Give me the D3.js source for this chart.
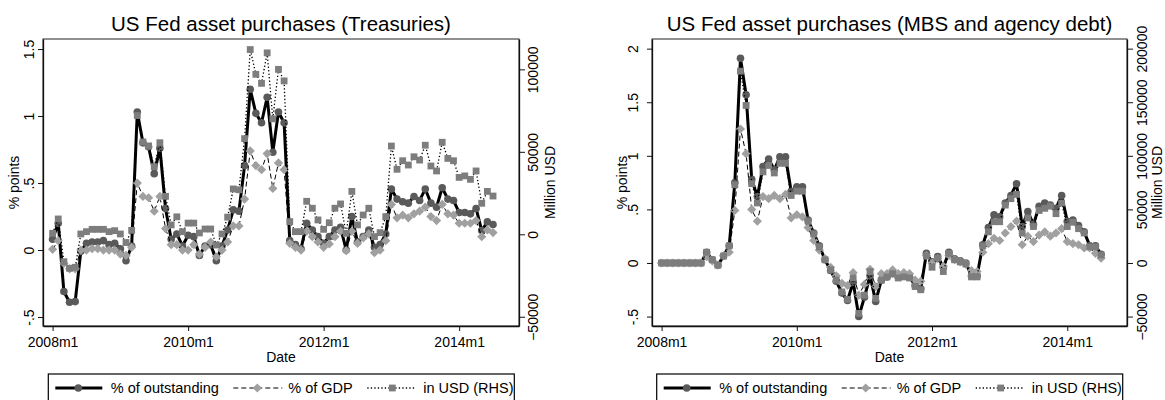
<!DOCTYPE html>
<html>
<head>
<meta charset="utf-8">
<script src="https://cdnjs.cloudflare.com/ajax/libs/d3/7.8.5/d3.min.js"></script>
<style>
  body { margin: 0; background: #fff; }
  svg { display: block; font-family: "Liberation Sans", Arial, sans-serif; }
</style>
</head>
<body>
<div id="chart"></div>
<script>
// monthly observations, 2008m1 .. 2014m7
let startMonth = new Date(2008, 0, 1);

// Treasuries
let treasOutstanding = [0.08,0.20,-0.31,-0.39,-0.385,-0.01,0.05,0.06,0.06,0.07,
  0.04,0.05,0.01,-0.08,0.03,1.03,0.80,0.77,0.57,0.76,
  0.31,0.08,0.12,0.03,0.11,0.10,-0.04,0.03,0.04,-0.08,
  0.03,0.15,0.30,0.29,0.63,1.20,1.02,0.95,1.14,0.73,
  1.03,0.95,0.07,0.04,0.01,0.20,0.15,0.10,0.05,0.10,
  0.15,0.17,0.00,0.25,0.06,0.10,0.15,0.02,0.04,0.12,
  0.455,0.38,0.36,0.35,0.40,0.37,0.455,0.35,0.32,0.465,
  0.38,0.37,0.28,0.28,0.27,0.31,0.145,0.21,0.19];
let treasGDP = [0.005,0.07,-0.10,-0.14,-0.14,0.0,0.0,0.01,0.01,0.0,
  0.0,0.0,-0.03,-0.04,0.02,0.50,0.40,0.39,0.29,0.40,
  0.16,0.04,0.04,0.0,0.0,0.04,-0.03,0.02,0.06,-0.05,
  0.0,0.06,0.18,0.18,0.38,0.74,0.63,0.60,0.72,0.46,
  0.65,0.60,0.05,0.02,0.0,0.14,0.10,0.06,0.02,0.045,
  0.10,0.14,-0.005,0.14,0.05,0.09,0.12,-0.02,0.0,0.07,
  0.34,0.24,0.26,0.24,0.27,0.29,0.32,0.25,0.22,0.34,
  0.27,0.26,0.20,0.20,0.20,0.22,0.10,0.15,0.13];
let treasUSD = [600,9300,-16600,-20600,-20000,200,1600,3000,3000,3000,
  1600,2200,200,-5000,2400,72000,56000,53600,41000,55500,
  23000,5700,10600,1600,6800,6800,800,3200,3200,-6500,
  200,10400,27500,27000,58000,112000,97000,91500,110000,70000,
  100000,93000,7700,1600,1600,20000,15800,8700,3000,7000,
  15800,18400,600,26000,5700,11700,15800,-1400,1000,10700,
  53500,39400,44600,42000,47000,45000,54000,41400,38400,55800,
  46000,44600,34500,35400,33300,38400,18800,26000,23200];

// MBS and agency debt
let mbsOutstanding = [0,0,0,0,0,0,0,0,0.10,0.03,
  -0.02,0.065,0.16,0.75,1.91,1.57,0.78,0.62,0.90,0.97,
  0.87,0.99,0.99,0.67,0.71,0.71,0.40,0.28,0.16,0.03,
  -0.07,-0.17,-0.28,-0.35,-0.18,-0.50,-0.32,-0.12,-0.36,-0.16,
  -0.13,-0.10,-0.13,-0.12,-0.13,-0.21,-0.24,0.09,0.01,0.06,
  -0.04,0.10,0.04,0.02,0.0,-0.12,-0.12,0.17,0.33,0.45,
  0.43,0.56,0.63,0.74,0.34,0.48,0.36,0.53,0.56,0.54,
  0.51,0.63,0.39,0.40,0.35,0.29,0.16,0.16,0.08];
let mbsGDP = [0,0,0,0,0,0,0,0,0.06,0.02,
  -0.02,0.07,0.10,0.49,1.25,1.02,0.50,0.39,0.62,0.60,
  0.63,0.60,0.64,0.42,0.45,0.43,0.33,0.21,0.12,0.04,
  -0.04,-0.12,-0.19,-0.21,-0.09,-0.30,-0.20,-0.06,-0.22,-0.10,
  -0.10,-0.065,-0.10,-0.09,-0.10,-0.16,-0.17,0.07,0.0,0.04,
  -0.03,0.07,0.03,0.01,-0.01,-0.07,-0.08,0.10,0.18,0.23,
  0.21,0.28,0.34,0.39,0.17,0.25,0.20,0.26,0.29,0.25,
  0.28,0.32,0.20,0.18,0.17,0.14,0.14,0.09,0.045];
let mbsUSD = [0,0,0,0,0,0,0,0,10000,3000,
  -2000,6500,16000,73000,179000,147000,74000,56000,85000,91000,
  84000,93000,93000,63000,67000,67000,39000,27000,15000,3000,
  -6500,-16000,-27000,-34000,-14000,-47000,-30000,-8000,-33000,-16000,
  -13000,-10000,-14000,-13000,-14000,-22000,-25000,6500,-4000,4500,
  -8000,9000,3000,1000,-1000,-13000,-13000,16000,29000,38500,
  38500,54000,60000,64000,28000,42000,34000,49000,51000,53000,
  46000,56000,34000,38000,32000,28000,15000,15000,7500];

// ticks
let xTickMonths = [0, 24, 48, 72];
let xTickLabels = ["2008m1", "2010m1", "2012m1", "2014m1"];
let treasLTicks = [-0.5, 0, 0.5, 1, 1.5];
let treasLLabels = ["-.5", "0", ".5", "1", "1.5"];
let treasRTicks = [-50000, 0, 50000, 100000];
let mbsLTicks = [-0.5, 0, 0.5, 1, 1.5, 2];
let mbsLLabels = ["-.5", "0", ".5", "1", "1.5", "2"];
let mbsRTicks = [-50000, 0, 50000, 100000, 150000, 200000];

let legendLabels = ["% of outstanding", "% of GDP", "in USD (RHS)"];

let w = 1165;
let h = 400;

let svg = d3.select("#chart").append("svg")
  .attr("width", w)
  .attr("height", h);

// turn month index into a date (only used for sanity, axis works on index)
let dates = treasOutstanding.map((d, i) => d3.timeMonth.offset(startMonth, i));

function diamond(r) {
  return `M0,${-r}L${r},0L0,${r}L${-r},0Z`;
}

function drawPanel(p) {
  let g = svg.append("g");

  let x = d3.scaleLinear().domain([-1.7, 82.6]).range([p.left, p.right]);
  let yL = d3.scaleLinear().domain(p.lDomain).range([p.bottom, p.top]);
  let yR = d3.scaleLinear().domain(p.rDomain).range([p.bottom, p.top]);

  // frame
  g.append("rect")
    .attr("x", p.left).attr("y", p.top)
    .attr("width", p.right - p.left).attr("height", p.bottom - p.top)
    .attr("fill", "none").attr("stroke", "#222").attr("stroke-width", 1);

  // x axis
  let xAxis = d3.axisBottom(x)
    .tickValues(xTickMonths)
    .tickFormat((d, i) => xTickLabels[i])
    .tickSize(5).tickSizeOuter(0);
  let xg = g.append("g").attr("transform", `translate(0,${p.bottom})`).call(xAxis);
  xg.selectAll("text").attr("y", 20.5).attr("dy", null).style("font-size", "14px").attr("fill", "#000");

  // left axis
  let lAxis = d3.axisLeft(yL)
    .tickValues(p.lTicks)
    .tickFormat((d, i) => p.lLabels[i])
    .tickSize(5).tickSizeOuter(0);
  let lg = g.append("g").attr("transform", `translate(${p.left},0)`).call(lAxis);
  lg.selectAll("text")
    .attr("x", null).attr("dy", null)
    .attr("text-anchor", "middle")
    .attr("transform", `translate(${-p.lLabOff},0) rotate(-90)`)
    .style("font-size", "14px").attr("fill", "#000");

  // right axis
  let rAxis = d3.axisRight(yR)
    .tickValues(p.rTicks)
    .tickFormat(d3.format("d"))
    .tickSize(6).tickSizeOuter(0);
  let rg = g.append("g").attr("transform", `translate(${p.right},0)`).call(rAxis);
  rg.selectAll("text")
    .attr("x", null).attr("dy", null)
    .attr("text-anchor", "middle")
    .attr("transform", `translate(${p.rLabOff},0) rotate(-90)`)
    .style("font-size", "14px").attr("fill", "#000");

  [xg, lg, rg].forEach(a => {
    a.select(".domain").attr("stroke", "#111").attr("stroke-width", 1.3);
    a.selectAll(".tick line").attr("stroke", "#111");
  });

  // titles
  g.append("text")
    .attr("x", (p.left + p.right) / 2).attr("y", 30.5)
    .attr("text-anchor", "middle")
    .style("font-size", "20.5px")
    .text(p.title);
  g.append("text")
    .attr("x", (p.left + p.right) / 2).attr("y", 361.5)
    .attr("text-anchor", "middle")
    .style("font-size", "14px")
    .text("Date");
  let mid = (p.top + p.bottom) / 2;
  g.append("text")
    .attr("transform", `translate(${p.left - p.lTitleOff},${mid}) rotate(-90)`)
    .attr("text-anchor", "middle")
    .style("font-size", "14px")
    .text("% points");
  g.append("text")
    .attr("transform", `translate(${p.right + p.rTitleOff},${mid}) rotate(-90)`)
    .attr("text-anchor", "middle")
    .style("font-size", "14px")
    .text("Million USD");

  // series
  let lineL = d3.line().x((d, i) => x(i)).y(d => yL(d));
  let lineR = d3.line().x((d, i) => x(i)).y(d => yR(d));

  g.append("path").datum(p.outstanding)
    .attr("d", lineL).attr("fill", "none")
    .attr("stroke", "#000").attr("stroke-width", 3).attr("stroke-linejoin", "round");
  g.selectAll(".circ").data(p.outstanding).enter()
    .append("circle").attr("class", "circ")
    .attr("cx", (d, i) => x(i)).attr("cy", d => yL(d))
    .attr("r", 3.8).attr("fill", "#5a5a5a");

  g.append("path").datum(p.gdp)
    .attr("d", lineL).attr("fill", "none")
    .attr("stroke", "#000").attr("stroke-width", 1).attr("stroke-dasharray", "5,3");
  g.selectAll(".diam").data(p.gdp).enter()
    .append("path").attr("class", "diam")
    .attr("transform", (d, i) => `translate(${x(i)},${yL(d)})`)
    .attr("d", diamond(4.6)).attr("fill", "#a0a0a0");

  g.append("path").datum(p.usd)
    .attr("d", lineR).attr("fill", "none")
    .attr("stroke", "#000").attr("stroke-width", 1.3).attr("stroke-dasharray", "1.3,2.2");
  g.selectAll(".sq").data(p.usd).enter()
    .append("rect").attr("class", "sq")
    .attr("x", (d, i) => x(i) - 3.4).attr("y", d => yR(d) - 3.4)
    .attr("width", 6.8).attr("height", 6.8).attr("fill", "#7d7d7d");

  // legend (partly cut off at the bottom edge)
  let lx = p.legendX;
  let leg = g.append("g").attr("transform", `translate(${lx},374)`);
  leg.append("rect").attr("x", 0).attr("y", 0)
    .attr("width", 466).attr("height", 40)
    .attr("fill", "#fff").attr("stroke", "#000").attr("stroke-width", 1.2);
  let ky = 14;
  leg.append("line").attr("x1", 7).attr("x2", 54).attr("y1", ky).attr("y2", ky)
    .attr("stroke", "#000").attr("stroke-width", 3);
  leg.append("circle").attr("cx", 30).attr("cy", ky).attr("r", 3.8).attr("fill", "#5a5a5a");
  leg.append("line").attr("x1", 185).attr("x2", 234).attr("y1", ky).attr("y2", ky)
    .attr("stroke", "#000").attr("stroke-width", 1).attr("stroke-dasharray", "5,3");
  leg.append("path").attr("transform", `translate(209,${ky})`).attr("d", diamond(4.6)).attr("fill", "#a0a0a0");
  leg.append("line").attr("x1", 319).attr("x2", 367).attr("y1", ky).attr("y2", ky)
    .attr("stroke", "#000").attr("stroke-width", 1.3).attr("stroke-dasharray", "1.3,2.2");
  leg.append("rect").attr("x", 344 - 3.4).attr("y", ky - 3.4).attr("width", 6.8).attr("height", 6.8).attr("fill", "#7d7d7d");
  let textX = [62.5, 240, 375];
  legendLabels.forEach((t, i) => {
    leg.append("text").attr("x", textX[i]).attr("y", 19)
      .style("font-size", "14.5px").text(t);
  });
}

drawPanel({
  title: "US Fed asset purchases (Treasuries)",
  left: 43, right: 519, top: 39, bottom: 326,
  lDomain: [-0.567, 1.575], rDomain: [-55600, 118400],
  lTicks: treasLTicks, lLabels: treasLLabels, rTicks: treasRTicks,
  lLabOff: 9.5, rLabOff: 19, lTitleOff: 24.5, rTitleOff: 36,
  outstanding: treasOutstanding, gdp: treasGDP, usd: treasUSD,
  legendX: 48.3
});

drawPanel({
  title: "US Fed asset purchases (MBS and agency debt)",
  left: 652, right: 1127, top: 39, bottom: 326,
  lDomain: [-0.588, 2.09], rDomain: [-58800, 209000],
  lTicks: mbsLTicks, lLabels: mbsLLabels, rTicks: mbsRTicks,
  lLabOff: 14, rLabOff: 20, lTitleOff: 25, rTitleOff: 35,
  outstanding: mbsOutstanding, gdp: mbsGDP, usd: mbsUSD,
  legendX: 656.7
});
</script>
</body>
</html>
